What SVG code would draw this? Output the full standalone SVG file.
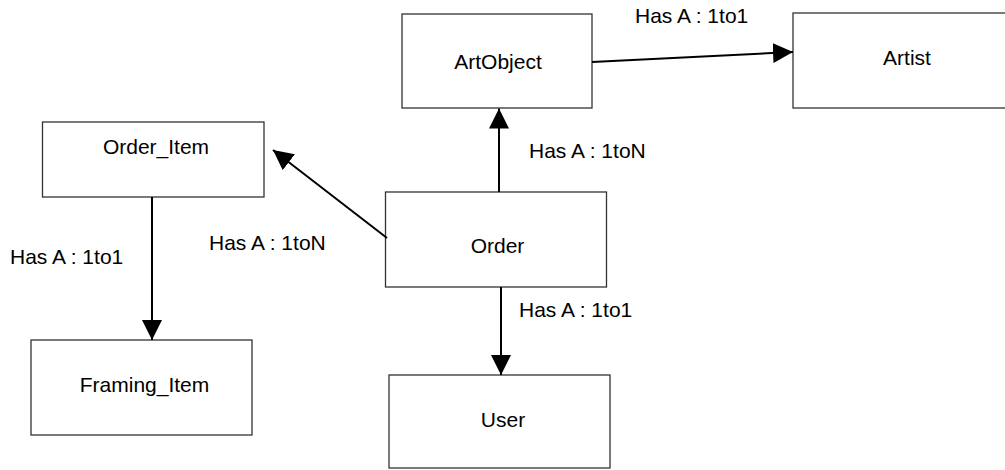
<svg xmlns="http://www.w3.org/2000/svg" width="1005" height="470" viewBox="0 0 1005 470">
  <style>
    .box { fill: #ffffff; stroke: #333333; stroke-width: 1.3; }
    .label { font-family: "Liberation Sans", Arial, sans-serif; font-size: 21px; fill: #000000; }
    .name { font-family: "Liberation Sans", Arial, sans-serif; font-size: 21px; fill: #000000; text-anchor: middle; }
    .edge { stroke: #000000; stroke-width: 2; fill: none; marker-end: url(#arrow); }
  </style>
  <defs>
    <marker id="arrow" markerUnits="userSpaceOnUse" markerWidth="20" markerHeight="20" refX="20" refY="10" orient="auto">
      <path d="M0,0 L20,10 L0,20 Z" fill="#000000"/>
    </marker>
  </defs>
  <rect width="1005" height="470" fill="#ffffff"/>

  <g id="node-artobject">
    <rect class="box" x="402" y="14" width="190" height="94"/>
    <text class="name" x="498" y="69">ArtObject</text>
  </g>
  <g id="node-artist">
    <rect class="box" x="793" y="13" width="230" height="95"/>
    <text class="name" x="907" y="65">Artist</text>
  </g>
  <g id="node-order-item">
    <rect class="box" x="42.5" y="122" width="221.5" height="75"/>
    <text class="name" x="156" y="154">Order_Item</text>
  </g>
  <g id="node-order">
    <rect class="box" x="385.5" y="192" width="221" height="95"/>
    <text class="name" x="497.5" y="253">Order</text>
  </g>
  <g id="node-framing-item">
    <rect class="box" x="31" y="340" width="221" height="95"/>
    <text class="name" x="144.5" y="392">Framing_Item</text>
  </g>
  <g id="node-user">
    <rect class="box" x="389" y="375" width="221" height="93"/>
    <text class="name" x="503" y="427">User</text>
  </g>

  <g id="connectors">
    <line class="edge" x1="499" y1="192" x2="499" y2="108.5"/>
    <line class="edge" x1="592" y1="62" x2="793" y2="52"/>
    <line class="edge" x1="387" y1="238" x2="273" y2="150"/>
    <line class="edge" x1="501" y1="287" x2="501" y2="375"/>
    <line class="edge" x1="152" y1="197" x2="152" y2="340"/>
  </g>

  <g id="edge-labels">
    <text class="label" x="635" y="23">Has A : 1to1</text>
    <text class="label" x="529" y="158">Has A : 1toN</text>
    <text class="label" x="209" y="250">Has A : 1toN</text>
    <text class="label" x="10" y="264">Has A : 1to1</text>
    <text class="label" x="519" y="317">Has A : 1to1</text>
  </g>
</svg>
